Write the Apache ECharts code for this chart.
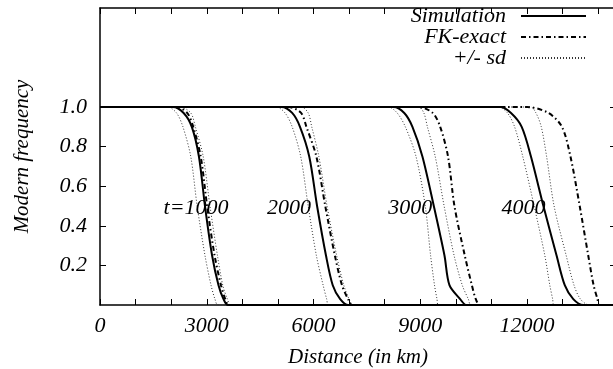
<!DOCTYPE html>
<html>
<head>
<meta charset="utf-8">
<script src="https://cdn.jsdelivr.net/npm/echarts@6/dist/echarts.min.js"></script>
<style>
html, body { margin: 0; padding: 0; background: #fff; }
#chart { width: 613px; height: 369px; }
</style>
</head>
<body>
<div id="chart"></div>
<script>
// frequency levels the curves pass through
var levels = [1, 1, 0.97, 0.9, 0.75, 0.5, 0.25, 0.1, 0.03, 0, 0];

// distance (km) at each level, one row per time t=1000..4000
var simX = [
    [0, 2050, 2350, 2580, 2780, 2950, 3150, 3330, 3470, 3600, 14500],
    [0, 5100, 5400, 5620, 5880, 6100, 6350, 6540, 6750, 6980, 14500],
    [0, 8250, 8550, 8780, 9060, 9380, 9680, 9820, 10120, 10300, 14500],
    [0, 11250, 11550, 11850, 12110, 12460, 12830, 13060, 13300, 13580, 14500]
];
var fkX = [
    [0, 2150, 2450, 2620, 2830, 3010, 3220, 3400, 3520, 3620, 14500],
    [0, 5300, 5650, 5800, 6080, 6330, 6600, 6800, 6970, 7090, 14500],
    [0, 8950, 9350, 9560, 9780, 9960, 10250, 10450, 10560, 10680, 14500],
    [0, 12000, 12600, 12980, 13220, 13480, 13720, 13870, 13980, 14030, 14500]
];
var sdLoX = [
    [0, 1900, 2150, 2330, 2550, 2730, 2950, 3120, 3230, 3320, 14500],
    [0, 4950, 5200, 5400, 5640, 5850, 6080, 6270, 6370, 6430, 14500],
    [0, 8100, 8350, 8580, 8880, 9140, 9290, 9400, 9470, 9510, 14500],
    [0, 11200, 11450, 11650, 11880, 12200, 12500, 12640, 12720, 12760, 14500]
];
var sdHiX = [
    [0, 2250, 2550, 2680, 2900, 3090, 3300, 3450, 3580, 3680, 14500],
    [0, 5650, 5850, 5950, 6150, 6380, 6650, 6850, 7000, 7120, 14500],
    [0, 8950, 9100, 9200, 9420, 9670, 9950, 10180, 10350, 10430, 14500],
    [0, 12100, 12250, 12400, 12550, 12760, 13100, 13320, 13500, 13750, 14500]
];

var timeLabels = ['t=1000', '2000', '3000', '4000'];
var timeLabelX = [2700, 5310, 8720, 11900];
var timeLabelY = 0.49;

var xLabels = [0, 3000, 6000, 9000, 12000];
var yLabels = [0.2, 0.4, 0.6, 0.8, 1.0];

var serif = 'Liberation Serif, DejaVu Serif, serif';

var myChart = echarts.init(document.getElementById('chart'));

function curve(name, xs, lineStyle, z) {
    var data = [];
    for (var i = 0; i < xs.length; i++) {
        data.push([xs[i], levels[i]]);
    }
    return {
        name: name,
        type: 'line',
        data: data,
        symbol: 'none',
        smooth: 0.3,
        z: z,
        lineStyle: lineStyle,
        itemStyle: { color: '#000', opacity: 0 },
        animation: false
    };
}

var series = [];
for (var k = 0; k < 4; k++) {
    series.push(curve('+/- sd', sdLoX[k], { color: '#333', width: 1, type: [1, 2] }, 2));
    series.push(curve('+/- sd', sdHiX[k], { color: '#333', width: 1, type: [1, 2] }, 2));
    series.push(curve('FK-exact', fkX[k], { color: '#000', width: 2, type: [5, 3, 1.5, 3] }, 3));
    series.push(curve('Simulation', simX[k], { color: '#000', width: 2, type: 'solid' }, 4));
}

// t labels on the curves
var tData = [];
for (var j = 0; j < timeLabels.length; j++) {
    tData.push({ name: timeLabels[j], value: [timeLabelX[j], timeLabelY] });
}
series.push({
    type: 'scatter',
    xAxisIndex: 1,
    yAxisIndex: 1,
    data: tData,
    symbolSize: 1,
    itemStyle: { color: 'rgba(0,0,0,0)' },
    z: 10,
    silent: true,
    animation: false,
    label: {
        show: true,
        position: 'inside',
        formatter: '{b}',
        color: '#000',
        opacity: 1,
        textBorderWidth: 0,
        fontFamily: serif,
        fontStyle: 'italic',
        fontSize: 22
    }
});

var axisText = { color: '#000', fontFamily: serif, fontStyle: 'italic', fontSize: 21 };
var tickText = { color: '#000', fontFamily: serif, fontStyle: 'italic', fontSize: 22 };

var option = {
    backgroundColor: '#fff',
    animation: false,
    grid: { left: 100, right: -3, top: 8, bottom: 64, outerBoundsMode: 'none', containLabel: false },
    legend: {
        data: ['Simulation', 'FK-exact', '+/- sd'],
        orient: 'vertical',
        right: 21,
        top: 0,
        align: 'right',
        itemWidth: 65,
        itemHeight: 14,
        itemGap: -1,
        itemStyle: { opacity: 0 },
        textStyle: { color: '#000', fontFamily: serif, fontStyle: 'italic', fontSize: 22, lineHeight: 18, padding: [0, 10, 0, 0] }
    },
    xAxis: [{
        type: 'value',
        min: 0,
        max: 14500,
        interval: 1000,
        name: 'Distance (in km)',
        nameLocation: 'middle',
        nameGap: 42,
        nameTextStyle: axisText,
        axisLine: { onZero: false, lineStyle: { color: '#000', width: 1.5 } },
        axisTick: { inside: true, length: 6, lineStyle: { color: '#000' } },
        axisLabel: Object.assign({
            customValues: xLabels,
            margin: 10,
            formatter: function (v) { return String(v); }
        }, tickText),
        splitLine: { show: false }
    }, {
        type: 'value',
        position: 'top',
        min: 0,
        max: 14500,
        interval: 1000,
        axisLine: { onZero: false, lineStyle: { color: '#000', width: 1.5 } },
        axisTick: { inside: true, length: 6, lineStyle: { color: '#000' } },
        axisLabel: { show: false },
        splitLine: { show: false }
    }],
    yAxis: [{
        type: 'value',
        min: 0,
        max: 1.5,
        interval: 0.1,
        name: 'Modern frequency',
        nameLocation: 'middle',
        nameGap: 67,
        nameTextStyle: axisText,
        axisLine: { show: true, onZero: false, lineStyle: { color: '#000', width: 1.5 } },
        axisTick: { inside: true, length: 6, customValues: yLabels, lineStyle: { color: '#000' } },
        axisLabel: Object.assign({
            customValues: yLabels,
            margin: 13,
            formatter: function (v) { return v.toFixed(1); }
        }, tickText),
        splitLine: { show: false }
    }, {
        type: 'value',
        position: 'right',
        min: 0,
        max: 1.5,
        interval: 0.1,
        axisLine: { show: true, onZero: false, lineStyle: { color: '#000', width: 1.5 } },
        axisTick: { inside: true, length: 6, customValues: yLabels, lineStyle: { color: '#000' } },
        axisLabel: { show: false },
        splitLine: { show: false }
    }],
    series: series
};
myChart.setOption(option);
</script>
</body>
</html>
